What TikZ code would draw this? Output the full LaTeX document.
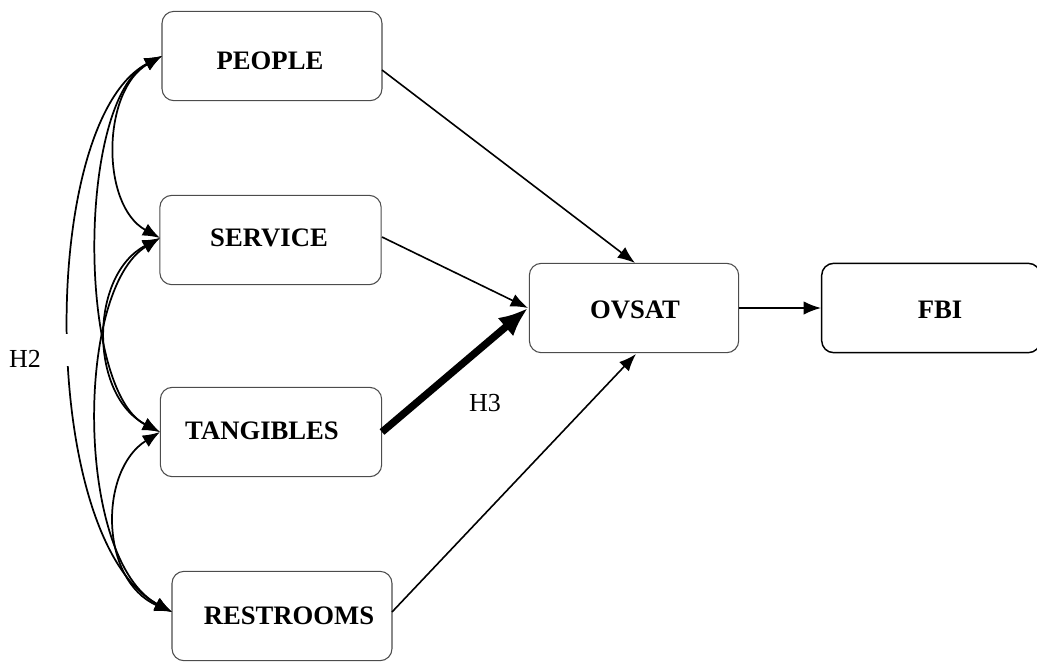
\documentclass[tikz,border=0pt]{standalone}
\usepackage{fontspec}
\setmainfont{Liberation Serif}
\usetikzlibrary{arrows.meta}
\begin{document}
\begin{tikzpicture}[x=0.75pt,y=-0.75pt,
  box/.style={draw=black!70,line width=0.8pt,rounded corners=9pt,inner sep=0pt},
  txt/.style={font=\bfseries\fontsize{20}{24}\selectfont,inner sep=0pt},
  arr/.style={-{Latex[length=13pt,width=10pt]},line width=1.2pt},
  cov/.style={{Latex[length=13pt,width=10pt]}-{Latex[length=13pt,width=10pt]},line width=1.3pt},
  lab/.style={font=\fontsize{19.5}{23}\selectfont,inner sep=0pt}]
\useasboundingbox (0,0) rectangle (1037,662);
% boxes
\node[box,minimum width=165pt,minimum height=67pt] (people) at (272,56) {};
\node[txt] (peopleT) at (270,61) {PEOPLE};
\node[box,minimum width=166pt,minimum height=67pt] (service) at (270.5,240) {};
\node[txt] (serviceT) at (269,238) {SERVICE};
\node[box,minimum width=166pt,minimum height=67pt] (tang) at (271,432) {};
\node[txt] (tangT) at (262,431) {TANGIBLES};
\node[box,minimum width=165pt,minimum height=67pt] (rest) at (282,616) {};
\node[txt] (restT) at (289,616) {RESTROOMS};
\node[box,minimum width=157pt,minimum height=67pt] (ovsat) at (634,308) {};
\node[txt] (ovsatT) at (635,310) {OVSAT};
\node[box,draw=black,line width=1.1pt,minimum width=164pt,minimum height=67pt] (fbi) at (931,308) {};
\node[txt] (fbiT) at (940,310) {FBI};
% coordinates
\coordinate (pL) at (162,56);
\coordinate (sL) at (160,238);
\coordinate (tL) at (160,432);
\coordinate (rL) at (172,612);
\coordinate (pR) at (382,70);
\coordinate (sR) at (382,237);
\coordinate (tR) at (382,432);
\coordinate (rR) at (392,612);
\coordinate (oT) at (635,263);
\coordinate (oL) at (528,308);
\coordinate (oB) at (636,354);
\coordinate (oR) at (739,308);
\coordinate (fL) at (821,308);
% paths
\draw[arr] (pR) -- (oT);
\draw[arr] (sR) -- (oL);
\draw[-{Latex[length=22pt,width=18pt]},line width=5.5pt] (tR) -- (oL);
\draw[arr] (rR) -- (oB);
\draw[arr] (oR) -- (fL);
% covariances
\draw[cov] (pL) .. controls (102,90) and (100,205) .. (sL);
\draw[cov] (pL) .. controls (77,100) and (77,390) .. (tL);
\draw[cov] (pL) .. controls (38,120) and (38,540) .. (rL);
\draw[cov] (sL) .. controls (89,275) and (89,395) .. (tL);
\draw[cov] (sL) .. controls (75,290) and (75,560) .. (rL);
\draw[cov] (tL) .. controls (99,470) and (99,580) .. (rL);
% labels
\fill[white] (58,334) rectangle (80,366);
\node[lab] (h2) at (25,359) {H2};
\node[lab] (h3) at (485,403) {H3};
\end{tikzpicture}
\end{document}
